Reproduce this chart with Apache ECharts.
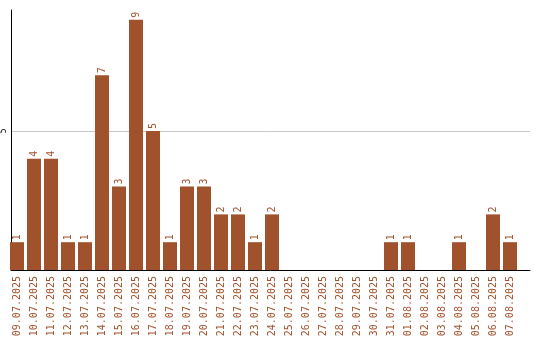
<!DOCTYPE html>
<html><head><meta charset="utf-8">
<script src="https://cdn.jsdelivr.net/npm/echarts@6/dist/echarts.min.js"></script>
<style>html,body{margin:0;padding:0;background:#fff}#c{width:540px;height:340px}</style>
</head><body><div id="c"></div>
<script>
var categories = ["09.07.2025","10.07.2025","11.07.2025","12.07.2025","13.07.2025","14.07.2025","15.07.2025","16.07.2025","17.07.2025","18.07.2025","19.07.2025","20.07.2025","21.07.2025","22.07.2025","23.07.2025","24.07.2025","25.07.2025","26.07.2025","27.07.2025","28.07.2025","29.07.2025","30.07.2025","31.07.2025","01.08.2025","02.08.2025","03.08.2025","04.08.2025","05.08.2025","06.08.2025","07.08.2025"];
var counts = [1,4,4,1,1,7,3,9,5,1,3,3,2,2,1,2,0,0,0,0,0,0,1,1,0,0,1,0,2,1];
var yTicks = [5];

var BROWN = '#a0522d';
var YMAX = 9.35;
var chart = echarts.init(document.getElementById('c'));
chart.setOption({
  animation: false,
  backgroundColor: '#fff',
  grid: [
    {left: 8.5, width: 510, top: 10, bottom: 70},
    {left: 10, right: 10, top: 10, bottom: 70}
  ],
  xAxis: [
    {gridIndex: 0, type: 'category', data: categories, boundaryGap: true,
     axisLine: {show: false}, axisTick: {show: false},
     axisLabel: {interval: 0, rotate: 90, margin: 6, color: BROWN, fontFamily: 'DejaVu Sans Mono, monospace', fontSize: 10}},
    {gridIndex: 1, type: 'value', min: 0, max: 1,
     axisLine: {show: true, lineStyle: {color: '#000', width: 1}},
     axisTick: {show: false}, axisLabel: {show: false}, splitLine: {show: false}}
  ],
  yAxis: [
    {gridIndex: 0, type: 'value', min: 0, max: YMAX, interval: 5,
     axisLine: {show: false}, axisTick: {show: false}, axisLabel: {show: false}, splitLine: {show: false}},
    {gridIndex: 1, type: 'value', min: 0, max: YMAX, interval: 5,
     axisLine: {show: true, lineStyle: {color: '#000', width: 1}},
     axisTick: {show: false},
     axisLabel: {rotate: 90, margin: 3, color: '#000', fontFamily: 'DejaVu Sans Mono, monospace', fontSize: 8,
       formatter: function (v) { return yTicks.indexOf(v) >= 0 ? String(v) : ''; }},
     splitLine: {show: true, lineStyle: {color: ['rgba(0,0,0,0)', '#c8c8c8', 'rgba(0,0,0,0)'], width: 1}}}
  ],
  series: [{
    type: 'bar', xAxisIndex: 0, yAxisIndex: 0,
    data: counts, barWidth: 14,
    itemStyle: {color: BROWN},
    label: {show: true, position: 'top', rotate: 90, align: 'left', verticalAlign: 'middle', distance: 2,
      color: BROWN, fontFamily: 'DejaVu Sans Mono, monospace', fontSize: 10,
      formatter: function (p) { return p.value ? String(p.value) : ''; }}
  }]
});
</script></body></html>
